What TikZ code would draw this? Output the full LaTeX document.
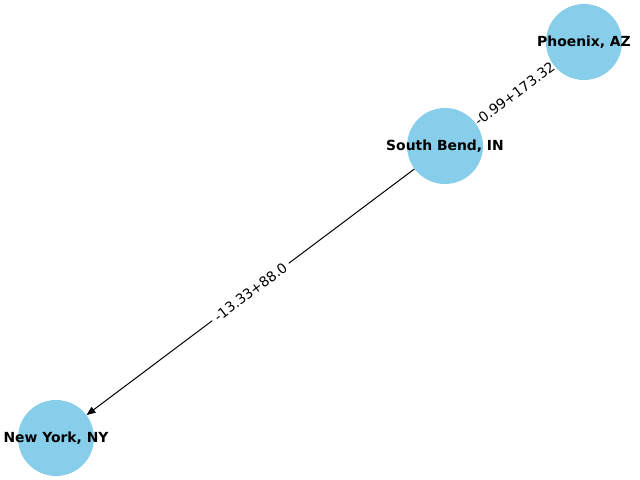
\documentclass[tikz,border=0pt]{standalone}
\usepackage{fontspec}
\setmainfont{DejaVu Sans}
\usetikzlibrary{arrows.meta}
\definecolor{skyblue}{HTML}{87CEEB}
\pgfdeclarelayer{background}
\pgfsetlayers{background,main}
\tikzset{
  city/.style={circle, fill=skyblue, minimum size=76bp, inner sep=0pt},
  citytext/.style={font=\bfseries\fontsize{13.89bp}{16bp}\selectfont, inner sep=0pt},
  edgelabel/.style={font=\fontsize{13.89bp}{16bp}\selectfont, fill=white, rounded corners=3bp, inner xsep=4bp, inner ysep=3bp, sloped},
  edgeline/.style={line width=1bp, black},
}
\begin{document}
\begin{tikzpicture}[x=1bp,y=-1bp]
\useasboundingbox (0,0) rectangle (640,480);
\node[city] (phx) at (584,42) {};
\node[city] (sb) at (445,146) {};
\node[city] (ny) at (56,438) {};
\begin{pgfonlayer}{background}
\draw[edgeline] (sb) -- (phx) node[edgelabel, midway] (l1) {-0.99+173.32};
\draw[edgeline, -{Triangle[length=9bp,width=7bp]}] (sb) -- (ny) node[edgelabel, midway] (l2) {-13.33+88.0};
\end{pgfonlayer}
\node[citytext] (tphx) at (phx) {Phoenix, AZ};
\node[citytext] (tsb) at (sb) {South Bend, IN};
\node[citytext] (tny) at (ny) {New York, NY};
\end{tikzpicture}
\end{document}
